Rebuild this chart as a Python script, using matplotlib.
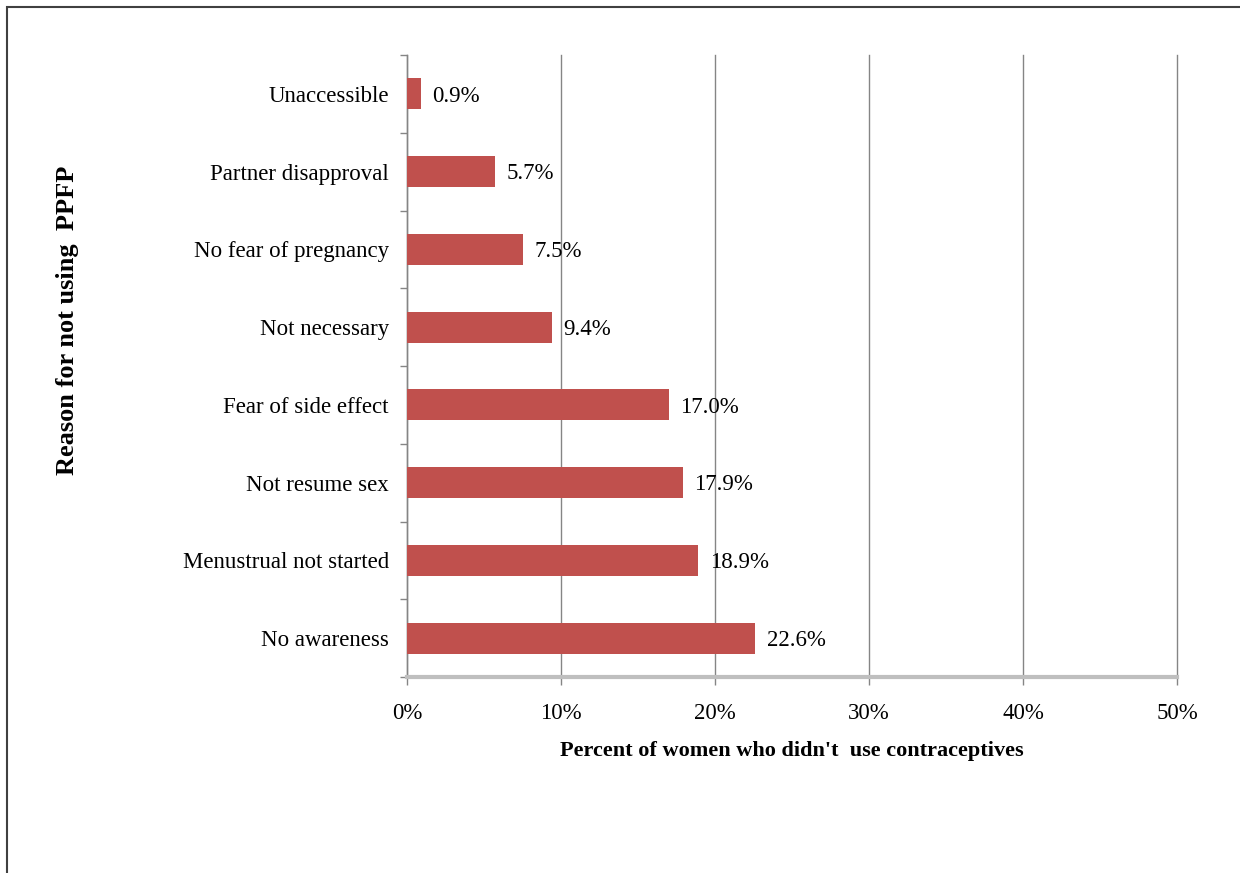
import matplotlib
matplotlib.use('Agg')
from matplotlib import pyplot as plt
from matplotlib.patches import Rectangle
from matplotlib.ticker import FixedLocator

# 数据
reasons = ['Unaccessible', 'Partner disapproval', 'No fear of pregnancy', 'Not necessary',
           'Fear of side effect', 'Not resume sex', 'Menustrual not started', 'No awareness']
percents = [0.9, 5.7, 7.5, 9.4, 17.0, 17.9, 18.9, 22.6]
xticks = [0, 10, 20, 30, 40, 50]

plt.rcParams['font.family'] = ['Liberation Serif', 'DejaVu Serif']

fig = plt.figure(figsize=(12.4, 8.73), dpi=100)
ax = fig.add_axes([407 / 1240, 1 - 677 / 873, 770 / 1240, 622 / 873])

ypos = list(range(len(reasons)))[::-1]
ax.barh(ypos, percents, height=0.4, color='#C0504D', zorder=3)

for y, v in zip(ypos, percents):
    ax.text(v + 0.75, y - 0.03, '%.1f%%' % v, va='center', ha='left', fontsize=16.5, zorder=4)

ax.set_xlim(0, 50)
ax.set_ylim(-0.5, len(reasons) - 0.5)
ax.set_xticks(xticks)
ax.set_xticklabels(['%d%%' % t for t in xticks], fontsize=16.5)
ax.xaxis.grid(True, color='#858585', linewidth=1.0, zorder=0)
for gl in ax.get_xgridlines():
    gl.set_clip_on(False)
ax.tick_params(axis='x', length=6, color='#858585', width=1.0, pad=13)

# 分类标签和刻度
ax.set_yticks(ypos)
ax.set_yticklabels(reasons, fontsize=16.5)
ax.tick_params(axis='y', length=0, pad=13)
ax.yaxis.set_minor_locator(FixedLocator([i - 0.5 for i in range(len(reasons) + 1)]))
ax.tick_params(axis='y', which='minor', length=5, color='#858585', width=1.0)

for s in ['top', 'right']:
    ax.spines[s].set_visible(False)
ax.spines['left'].set_color('#858585')
ax.spines['left'].set_linewidth(1.0)
ax.spines['bottom'].set_color('#BFBFBF')
ax.spines['bottom'].set_linewidth(3)

ax.set_xlabel("Percent of women who didn't  use contraceptives", fontsize=16, fontweight='bold', labelpad=12)
fig.text(68 / 1240, 1 - 320 / 873, 'Reason for not using  PPFP', rotation=90,
         ha='center', va='center', fontsize=19, fontweight='bold')

# 外框
fig.patches.append(Rectangle((7 / 1240, -0.02), 1.02, 1 - 7 / 873 + 0.02, transform=fig.transFigure,
                             fill=False, edgecolor='#404040', linewidth=1.5))

plt.savefig('out.png', dpi=100)
